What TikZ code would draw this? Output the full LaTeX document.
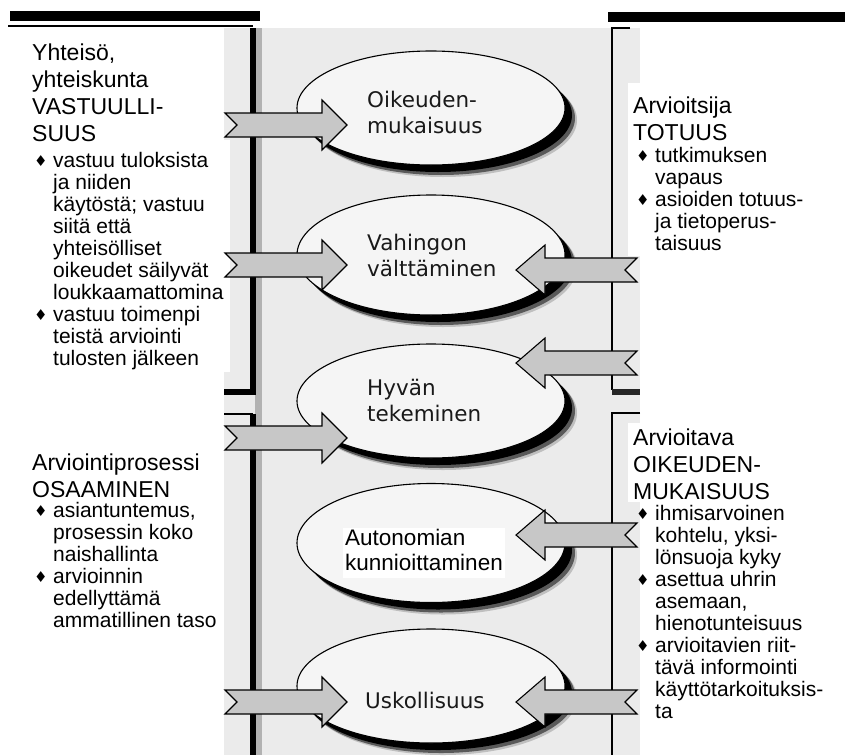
\documentclass[tikz,border=0pt]{standalone}
\usepackage{fontspec}
\setmainfont{Liberation Sans}
\newfontfamily\verdana{DejaVu Sans}
\usetikzlibrary{shapes.geometric}
\newcommand{\bulletmark}{\makebox[20pt][l]{\hspace{1pt}\raisebox{1pt}{\verdana\fontsize{15}{15}\selectfont\char"2666}}}

\begin{document}
\begin{tikzpicture}[x=1pt,y=1pt]
	\tikzstyle{every node}+=[inner sep=0pt]
	\tikzstyle{oval}=[ellipse, draw=black, line width=1.1pt, fill=black!4, minimum width=268pt, minimum height=114pt]
	\tikzstyle{ovaltext}=[anchor=base west, text=black!90, font=\verdana\fontsize{21.5}{26.5}\selectfont]
	\tikzstyle{blockarrow}=[draw=black, line width=1.1pt, fill=black!22, line join=miter]
	\tikzstyle{heading}=[anchor=base west, font=\fontsize{23}{27}\selectfont]
	\tikzstyle{points}=[anchor=base west, font=\fontsize{21}{22}\selectfont]
	\useasboundingbox (0,0) rectangle (845,-755);
	% scanned middle part and white text boxes
	\fill[black!8] (224,-28) rectangle (640,-755);
	\fill[white] (0,-140) rectangle (230,-372);
	\fill[white] (628,-83) rectangle (645,-256);
	\fill[white] (628,-423) rectangle (645,-502);
	% top bars
	\fill[black] (10,-11) rectangle (260,-21);
	\fill[black] (608,-12) rectangle (845,-22);
	\draw[line width=1.5pt] (8,-26) -- (253,-26);
	% left brackets
	\draw[line width=7pt, black!30] (258,-28) -- (258,-755);
	\draw[line width=6pt] (253,-28) -- (253,-392) -- (224,-392);
	\draw[line width=1.2pt] (224,-414) -- (253,-414);
	\draw[line width=6pt] (253,-414) -- (253,-755);
	% right brackets
	\draw[line width=1.2pt] (630,-28) -- (612,-28) -- (612,-390);
	\draw[line width=6pt, black!85] (612,-392) -- (640,-392);
	\draw[line width=1.2pt] (640,-413) -- (612,-413) -- (612,-755);
	% shadows of the ovals
	\fill[black!25] (443,-120) ellipse (134 and 57);
	\fill[black!25] (443,-267) ellipse (134 and 60);
	\fill[black!25] (443,-413) ellipse (134 and 57);
	\fill[black!25] (443,-555) ellipse (134 and 59.5);
	\fill[black!25] (443,-698) ellipse (134 and 57);
	\fill[black!65] (441,-118) ellipse (134 and 57);
	\fill[black!65] (441,-265) ellipse (134 and 60);
	\fill[black!65] (441,-411) ellipse (134 and 57);
	\fill[black!65] (441,-553) ellipse (134 and 59.5);
	\fill[black!65] (441,-696) ellipse (134 and 57);
	\fill[black] (438,-115) ellipse (134 and 57);
	\fill[black] (438,-262) ellipse (134 and 60);
	\fill[black] (438,-408) ellipse (134 and 57);
	\fill[black] (438,-550) ellipse (134 and 59.5);
	\fill[black] (438,-693) ellipse (134 and 57);
	% ovals
	\node[oval] (oik) at (431,-108) {};
	\node[oval, minimum height=120pt] (vah) at (431,-255) {};
	\node[oval] (hyv) at (431,-401) {};
	\node[oval, minimum height=119pt] (aut) at (431,-543) {};
	\node[oval] (usk) at (431,-686) {};
	\node[ovaltext] (oikText) at (367,-107) {\begin{tabular}[t]{@{}l@{}}Oikeuden-\\mukaisuus\end{tabular}};
	\node[ovaltext] (vahText) at (367,-250) {\begin{tabular}[t]{@{}l@{}}Vahingon\\välttäminen\end{tabular}};
	\node[ovaltext] (hyvText) at (367,-395) {\begin{tabular}[t]{@{}l@{}}Hyvän\\tekeminen\end{tabular}};
	\node[ovaltext] (uskText) at (365,-708) {Uskollisuus};
	\node[anchor=base west, fill=white, inner xsep=2pt, font=\fontsize{22.5}{25}\selectfont] (autText) at (343,-545) {\begin{tabular}[t]{@{}l@{}}Autonomian\\kunnioittaminen\end{tabular}};
	% arrows from the left
	\filldraw[blockarrow] (225,-113) -- ++(97,0) -- ++(0,13) -- ++(25,-25) -- ++(-25,-25) -- ++(0,13) -- ++(-97,0) -- ++(12,12) -- cycle;
	\filldraw[blockarrow] (225,-253) -- ++(97,0) -- ++(0,13) -- ++(25,-25) -- ++(-25,-25) -- ++(0,13) -- ++(-97,0) -- ++(12,12) -- cycle;
	\filldraw[blockarrow] (225,-426) -- ++(97,0) -- ++(0,13) -- ++(25,-25) -- ++(-25,-25) -- ++(0,13) -- ++(-97,0) -- ++(12,12) -- cycle;
	\filldraw[blockarrow] (225,-690) -- ++(97,0) -- ++(0,13) -- ++(25,-25) -- ++(-25,-25) -- ++(0,13) -- ++(-97,0) -- ++(12,12) -- cycle;
	% arrows from the right
	\filldraw[blockarrow] (637,-258) -- ++(-92,0) -- ++(0,13) -- ++(-29,-25) -- ++(29,-25) -- ++(0,13) -- ++(92,0) -- ++(-12,12) -- cycle;
	\filldraw[blockarrow] (637,-351) -- ++(-92,0) -- ++(0,13) -- ++(-29,-25) -- ++(29,-25) -- ++(0,13) -- ++(92,0) -- ++(-12,12) -- cycle;
	\filldraw[blockarrow] (637,-523) -- ++(-92,0) -- ++(0,13) -- ++(-29,-25) -- ++(29,-25) -- ++(0,13) -- ++(92,0) -- ++(-12,12) -- cycle;
	\filldraw[blockarrow] (637,-690) -- ++(-92,0) -- ++(0,13) -- ++(-29,-25) -- ++(29,-25) -- ++(0,13) -- ++(92,0) -- ++(-12,12) -- cycle;
	% side texts
	\node[heading] (yhteiso) at (32,-60) {\begin{tabular}[t]{@{}l@{}}Yhteisö,\\yhteiskunta\\VASTUULLI-\\SUUS\end{tabular}};
	\node[points] (yhteisoPts) at (33,-167) {\begin{tabular}[t]{@{}l@{}l@{}}\bulletmark & vastuu tuloksista\\ & ja niiden\\ & käytöstä; vastuu\\ & siitä että\\ & yhteisölliset\\ & oikeudet säilyvät\\ & loukkaamattomina\\ \bulletmark & vastuu toimenpi\\ & teistä arviointi\\ & tulosten jälkeen\end{tabular}};
	\node[heading] (prosessi) at (32,-470) {\begin{tabular}[t]{@{}l@{}}Arviointiprosessi\\OSAAMINEN\end{tabular}};
	\node[points] (prosessiPts) at (33,-517) {\begin{tabular}[t]{@{}l@{}l@{}}\bulletmark & asiantuntemus,\\ & prosessin koko\\ & naishallinta\\ \bulletmark & arvioinnin\\ & edellyttämä\\ & ammatillinen taso\end{tabular}};
	\node[heading] (arvioitsija) at (633,-113) {\begin{tabular}[t]{@{}l@{}}Arvioitsija\\TOTUUS\end{tabular}};
	\node[points] (arvioitsijaPts) at (635,-162) {\begin{tabular}[t]{@{}l@{}l@{}}\bulletmark & tutkimuksen\\ & vapaus\\ \bulletmark & asioiden totuus-\\ & ja tietoperus-\\ & taisuus\end{tabular}};
	\node[heading] (arvioitava) at (633,-445) {\begin{tabular}[t]{@{}l@{}}Arvioitava\\OIKEUDEN-\\MUKAISUUS\end{tabular}};
	\node[points] (arvioitavaPts) at (635,-520) {\begin{tabular}[t]{@{}l@{}l@{}}\bulletmark & ihmisarvoinen\\ & kohtelu, yksi-\\ & lönsuoja kyky\\ \bulletmark & asettua uhrin\\ & asemaan,\\ & hienotunteisuus\\ \bulletmark & arvioitavien riit-\\ & tävä informointi\\ & käyttötarkoituksis-\\ & ta\end{tabular}};
\end{tikzpicture}
\end{document}
